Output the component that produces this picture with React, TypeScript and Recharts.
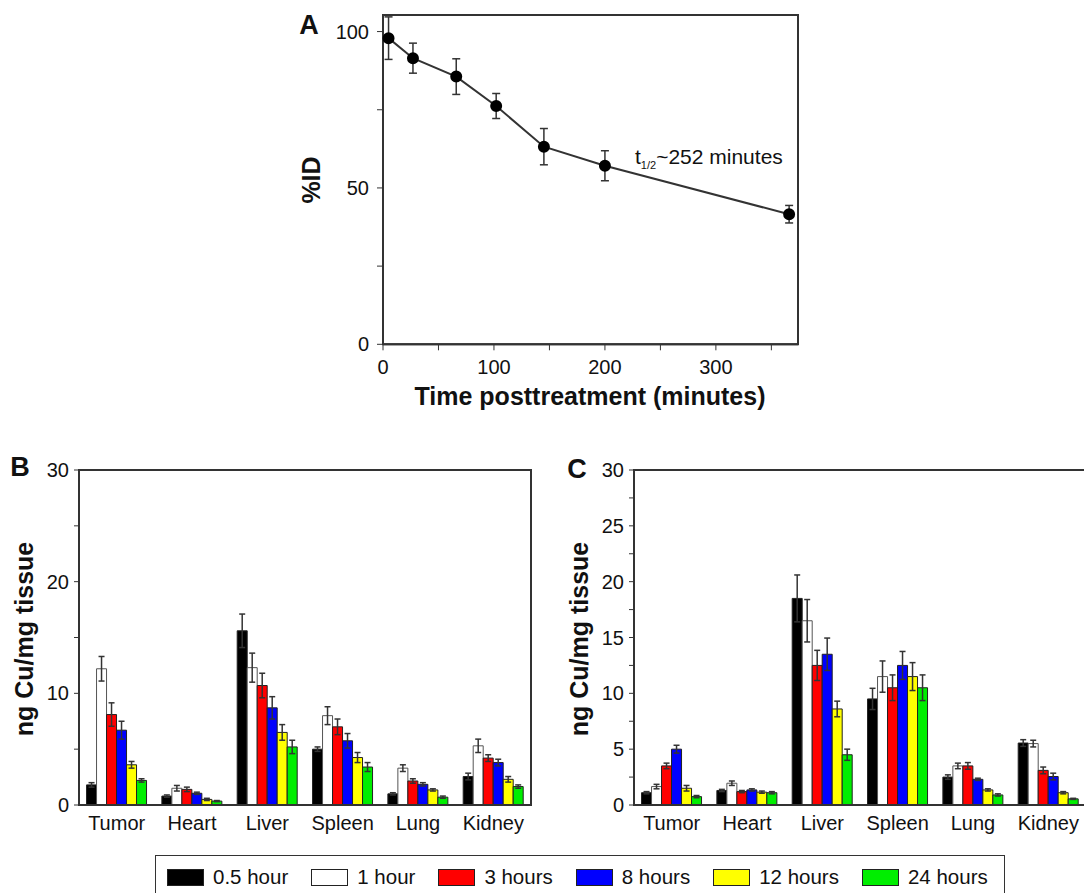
import React from "react";
import { LineChart, Line, BarChart, Bar, XAxis, YAxis, ErrorBar, ReferenceArea } from "recharts";

const font = "Arial, 'Liberation Sans', Helvetica, sans-serif";
const ink = "#333";

// panel A: blood clearance
const timeMin = [5, 27, 66, 102, 145, 200, 366];
const pctId = [97.9, 91.5, 85.6, 76.2, 63.2, 57.1, 41.6];
const pctIdErr = [6.8, 4.8, 5.7, 4.0, 5.8, 4.8, 2.8];
const aXTicks = [0, 50, 100, 150, 200, 250, 300, 350];
const aYTicks = [0, 25, 50, 75, 100];

// panels B and C: biodistribution
const organs = ["Tumor", "Heart", "Liver", "Spleen", "Lung", "Kidney"];
const seriesNames = ["0.5 hour", "1 hour", "3 hours", "8 hours", "12 hours", "24 hours"];
const seriesColors = ["#000000", "#ffffff", "#ff0000", "#0000ff", "#ffff00", "#00ee00"];

const bHalf = [1.8, 0.8, 15.6, 5.0, 1.0, 2.55];
const bOne = [12.2, 1.5, 12.3, 8.0, 3.3, 5.3];
const bThree = [8.1, 1.4, 10.7, 7.0, 2.15, 4.2];
const bEight = [6.7, 1.05, 8.7, 5.75, 1.85, 3.8];
const bTwelve = [3.6, 0.5, 6.5, 4.25, 1.35, 2.3];
const bTwentyFour = [2.2, 0.35, 5.2, 3.4, 0.7, 1.65];

const bHalfErr = [0.2, 0.1, 1.5, 0.2, 0.1, 0.3];
const bOneErr = [1.1, 0.25, 1.3, 0.8, 0.3, 0.6];
const bThreeErr = [1.05, 0.2, 1.1, 0.7, 0.2, 0.3];
const bEightErr = [0.8, 0.1, 1.0, 0.65, 0.15, 0.3];
const bTwelveErr = [0.3, 0.1, 0.7, 0.45, 0.1, 0.25];
const bTwentyFourErr = [0.15, 0.05, 0.6, 0.4, 0.1, 0.15];

const cHalf = [1.1, 1.3, 18.5, 9.5, 2.5, 5.55];
const cOne = [1.65, 1.95, 16.5, 11.5, 3.5, 5.5];
const cThree = [3.5, 1.2, 12.5, 10.5, 3.5, 3.1];
const cEight = [5.0, 1.35, 13.5, 12.5, 2.3, 2.55];
const cTwelve = [1.5, 1.15, 8.6, 11.5, 1.35, 1.1];
const cTwentyFour = [0.75, 1.1, 4.5, 10.5, 0.9, 0.55];

const cHalfErr = [0.1, 0.1, 2.1, 0.95, 0.2, 0.3];
const cOneErr = [0.2, 0.2, 1.9, 1.4, 0.25, 0.3];
const cThreeErr = [0.25, 0.1, 1.35, 1.15, 0.3, 0.3];
const cEightErr = [0.35, 0.1, 1.45, 1.25, 0.1, 0.3];
const cTwelveErr = [0.25, 0.1, 0.7, 1.25, 0.1, 0.1];
const cTwentyFourErr = [0.1, 0.1, 0.5, 1.15, 0.1, 0.05];

const bTicks = [0, 5, 10, 15, 20, 25, 30];
const cTicks = [0, 2.5, 5, 7.5, 10, 12.5, 15, 17.5, 20, 22.5, 25, 27.5, 30];

const clearanceRows = timeMin.map((t, i) => ({ t, v: pctId[i], e: pctIdErr[i] }));

const buildRows = (vals: number[][], errs: number[][]) =>
  organs.map((organ, i) => {
    const row: Record<string, any> = { organ };
    vals.forEach((v, k) => {
      row[`s${k}`] = v[i];
      row[`e${k}`] = errs[k][i];
    });
    return row;
  });

const bRows = buildRows(
  [bHalf, bOne, bThree, bEight, bTwelve, bTwentyFour],
  [bHalfErr, bOneErr, bThreeErr, bEightErr, bTwelveErr, bTwentyFourErr]
);
const cRows = buildRows(
  [cHalf, cOne, cThree, cEight, cTwelve, cTwentyFour],
  [cHalfErr, cOneErr, cThreeErr, cEightErr, cTwelveErr, cTwentyFourErr]
);

const tickStyle = { fill: "#111", fontSize: 20, fontFamily: font };
const frameLine = { stroke: ink, strokeWidth: 2 };

const abs = (left: number, top: number, extra: React.CSSProperties = {}): React.CSSProperties => ({
  position: "absolute",
  left,
  top,
  fontFamily: font,
  color: "#111",
  lineHeight: 1,
  whiteSpace: "nowrap",
  ...extra,
});

const centered = (x: number, y: number, size: number, bold = true, rotate = 0): React.CSSProperties =>
  abs(x, y, {
    fontSize: size,
    fontWeight: bold ? "bold" : "normal",
    transform: `translate(-50%, -50%) rotate(${rotate}deg)`,
  });

const OrganChart = ({ rows, ticks, majors }: { rows: any[]; ticks: number[]; majors: number[] }) => (
  <BarChart
    width={545}
    height={410}
    data={rows}
    margin={{ top: 30, right: 14, bottom: 0, left: 0 }}
    barCategoryGap="10%"
    barGap={0}
  >
    <XAxis
      dataKey="organ"
      height={45}
      tickLine={false}
      tickSize={0}
      tickMargin={11}
      axisLine={frameLine}
      tick={tickStyle}
      interval={0}
    />
    <YAxis
      width={79}
      domain={[0, 30]}
      ticks={ticks}
      interval={0}
      tickSize={5}
      tickMargin={5}
      tickLine={{ stroke: ink }}
      axisLine={frameLine}
      tick={tickStyle}
      tickFormatter={(v: number) => (majors.includes(v) ? String(v) : "")}
    />
    {seriesNames.map((name, k) => (
      <Bar
        key={name}
        dataKey={`s${k}`}
        name={name}
        fill={seriesColors[k]}
        stroke={k === 1 ? "#555" : "#222"}
        strokeWidth={1}
        isAnimationActive={false}
      >
        <ErrorBar dataKey={`e${k}`} width={3} stroke={ink} strokeWidth={1.5} direction="y" isAnimationActive={false} />
      </Bar>
    ))}
    <ReferenceArea y1={0} y2={30} fill="none" stroke={ink} strokeWidth={2} ifOverflow="visible" />
  </BarChart>
);

export default function App() {
  return (
    <div
      style={{
        position: "absolute",
        left: 0,
        top: 0,
        width: 1084,
        height: 893,
        overflow: "hidden",
        background: "#fff",
      }}
    >
      {/* Panel A */}
      <div style={{ position: "absolute", left: 300, top: 0 }}>
        <LineChart width={520} height={420} data={clearanceRows} margin={{ top: 15, right: 22, bottom: 45.7, left: 0 }}>
          <XAxis
            dataKey="t"
            type="number"
            domain={[0, 374]}
            ticks={aXTicks}
            interval={0}
            height={30}
            tickSize={6}
            tickMargin={9}
            tickLine={{ stroke: ink }}
            axisLine={frameLine}
            tick={tickStyle}
            tickFormatter={(v: number) => (v % 100 === 0 ? String(v) : "")}
          />
          <YAxis
            width={83}
            domain={[0, 105.3]}
            ticks={aYTicks}
            interval={0}
            tickSize={6}
            tickMargin={8}
            tickLine={{ stroke: ink }}
            axisLine={frameLine}
            tick={tickStyle}
            tickFormatter={(v: number) => (v % 50 === 0 ? String(v) : "")}
          />
          <Line
            dataKey="v"
            type="linear"
            stroke={ink}
            strokeWidth={2}
            dot={{ r: 5, fill: "#000", stroke: "#000" }}
            isAnimationActive={false}
          >
            <ErrorBar dataKey="e" width={4} stroke={ink} strokeWidth={1.5} direction="y" isAnimationActive={false} />
          </Line>
          <ReferenceArea y1={0} y2={105.3} fill="none" stroke={ink} strokeWidth={2} ifOverflow="visible" />
        </LineChart>
      </div>
      <div style={centered(309, 25, 27)}>A</div>
      <div style={centered(311, 180, 25, true, -90)}>%ID</div>
      <div style={centered(590, 396, 25)}>Time posttreatment (minutes)</div>
      <div style={abs(635, 146, { fontSize: 21 })}>
        t<span style={{ fontSize: 11, position: "relative", top: 5 }}>1/2</span>~252 minutes
      </div>

      {/* Panel B */}
      <div style={{ position: "absolute", left: 0, top: 440 }}>
        <OrganChart rows={bRows} ticks={bTicks} majors={[0, 10, 20, 30]} />
      </div>
      <div style={centered(20, 467, 27)}>B</div>
      <div style={centered(24, 639, 25, true, -90)}>ng Cu/mg tissue</div>

      {/* Panel C */}
      <div style={{ position: "absolute", left: 555, top: 440 }}>
        <OrganChart rows={cRows} ticks={cTicks} majors={[0, 5, 10, 15, 20, 25, 30]} />
      </div>
      <div style={centered(577, 469, 27)}>C</div>
      <div style={centered(579, 639, 25, true, -90)}>ng Cu/mg tissue</div>

      {/* Shared legend */}
      <div
        style={abs(155, 855, {
          width: 850,
          height: 60,
          border: `1.5px solid ${ink}`,
          boxSizing: "border-box",
          display: "flex",
          alignItems: "flex-start",
          paddingLeft: 11,
          paddingTop: 11,
          fontSize: 20.5,
        })}
      >
        {seriesNames.map((name, k) => (
          <div key={name} style={{ display: "flex", alignItems: "center", marginRight: 23, height: 20 }}>
            <span
              style={{
                display: "inline-block",
                width: 37,
                height: 17,
                background: seriesColors[k],
                border: "1px solid #222",
                boxSizing: "border-box",
                marginRight: 9,
              }}
            />
            <span>{name}</span>
          </div>
        ))}
      </div>
    </div>
  );
}
